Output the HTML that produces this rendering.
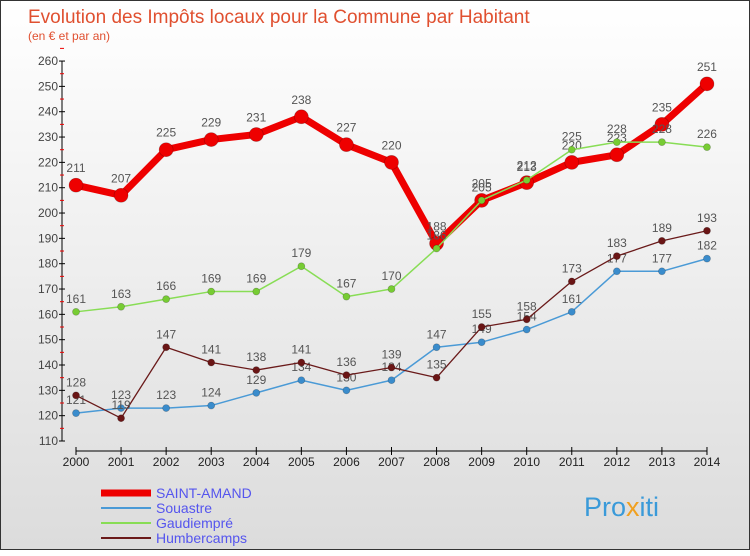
<!DOCTYPE html>
<html><head><meta charset="utf-8"><style>
body{margin:0;width:750px;height:550px;overflow:hidden;font-family:"Liberation Sans",sans-serif}
#wrap{position:absolute;left:0;top:0;width:748px;height:548px;border:1px solid #333;background:linear-gradient(#fff,#dcdcdc)}
</style></head><body>
<div id="wrap">
<svg id="c" width="750" height="550" xmlns="http://www.w3.org/2000/svg">
<text x="27" y="22" font-size="19" fill="#e05030">Evolution des Impôts locaux pour la Commune par Habitant</text>
<text x="27" y="39" font-size="12" fill="#e05030">(en € et par an)</text>
<g id="axes"></g><g id="series"></g><g id="legend"></g>
<text x="583" y="515" font-size="27" fill="#3a9ad9">Pro<tspan fill="#f0a020">x</tspan><tspan fill="#3a9ad9">iti</tspan></text>
</svg></div>
<script>
const years=[2000,2001,2002,2003,2004,2005,2006,2007,2008,2009,2010,2011,2012,2013,2014];
const saintAmand=[211,207,225,229,231,238,227,220,188,205,212,220,223,235,251];
const souastre=[121,123,123,124,129,134,130,134,147,149,154,161,177,177,182];
const gaudiempre=[161,163,166,169,169,179,167,170,186,205,213,225,228,228,226];
const humbercamps=[128,119,147,141,138,141,136,139,135,155,158,173,183,189,193];
const yTicks=[110,120,130,140,150,160,170,180,190,200,210,220,230,240,250,260];
const NS="http://www.w3.org/2000/svg";
const X=i=>75+i*45.07, Y=v=>440-(v-110)*2.533;
function mk(t,a,p){const e=document.createElementNS(NS,t);for(const k in a)e.setAttribute(k,a[k]);p.appendChild(e);return e;}
const ax=document.getElementById('axes');
let l=mk('line',{x1:61,y1:Y(260),x2:61,y2:Y(110),stroke:'#000'},ax);

yTicks.forEach(v=>{
 mk('line',{x1:58,x2:64,y1:Y(v),y2:Y(v),stroke:'#000'},ax);
 mk('line',{x1:59,x2:63,y1:Y(v+5),y2:Y(v+5),stroke:'#e00'},ax);
 const t=mk('text',{x:57,y:Y(v)+4,'font-size':12,'text-anchor':'end',fill:'#444'},ax);t.textContent=v;
 
});
l=mk('line',{x1:X(0),x2:X(14),y1:450,y2:450,stroke:'#000'},ax);

years.forEach((y,i)=>{
 mk('line',{x1:X(i),x2:X(i),y1:446,y2:454,stroke:'#000'},ax);
 const t=mk('text',{x:X(i),y:465,'font-size':12,'text-anchor':'middle',fill:'#222'},ax);t.textContent=y;
 
});
const S=document.getElementById('series');
function draw(name,data,col,w,r,dot,dy){
 const g=mk('g',{},S);
 
 mk('polyline',{points:data.map((v,i)=>X(i)+','+Y(v)).join(' '),fill:'none',stroke:col,'stroke-width':w,'stroke-linejoin':'round'},g);
 data.forEach((v,i)=>{
  const c=mk('circle',{cx:X(i),cy:Y(v),r:r,fill:dot,stroke:'rgba(0,0,0,0.25)','stroke-width':0.7},g);
  
  const t=mk('text',{x:X(i),y:Y(v)-dy,'font-size':12,'text-anchor':'middle',fill:'#555'},g);t.textContent=v;
  
 });
}
draw('souastre',souastre,'#4a9ad6',1.5,3.5,'#3a8ccc',9);
draw('humbercamps',humbercamps,'#6a1a1a',1.3,3.5,'#6a1515',9);
draw('saint-amand',saintAmand,'#ee0000',7,7,'#ee0000',13);
draw('gaudiempre',gaudiempre,'#88dd55',1.5,3.5,'#77cc33',9);
const L=document.getElementById('legend');
[['SAINT-AMAND','#ee0000',7,'#5555ee'],['Souastre','#4a9ad6',2,'#5555ee'],['Gaudiempré','#88dd55',2,'#5555ee'],['Humbercamps','#6a1a1a',2,'#5555ee']].forEach((e,i)=>{
 const g=mk('g',{},L);
 
 const y=492+i*15;
 mk('line',{x1:100,x2:150,y1:y,y2:y,stroke:e[1],'stroke-width':e[2]},g);
 const t=mk('text',{x:155,y:y+5,'font-size':14,fill:e[3]},g);t.textContent=e[0];
});
</script></body></html>
